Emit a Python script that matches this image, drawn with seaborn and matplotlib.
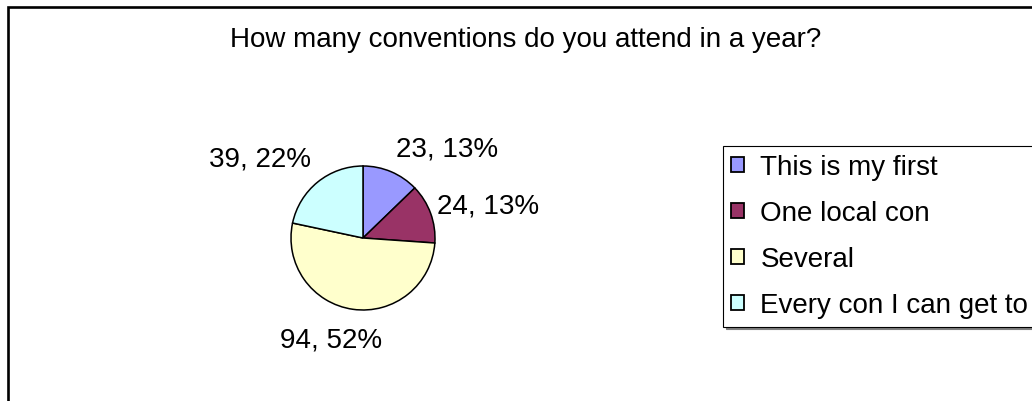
import matplotlib
matplotlib.use("Agg")
import matplotlib.pyplot as plt
from matplotlib.patches import Patch, Rectangle
import seaborn as sns

# Survey answers
categories = ["This is my first", "One local con", "Several", "Every con I can get to"]
counts = [23, 24, 94, 39]
colors = ["#9999FF", "#993366", "#FFFFCC", "#CCFFFF"]
title = "How many conventions do you attend in a year?"

sns.set_theme(style="white")
plt.rcParams["font.family"] = ["Liberation Sans", "DejaVu Sans"]
plt.rcParams["text.color"] = "black"

W, H = 1032, 402
fig = plt.figure(figsize=(W / 100, H / 100), dpi=100)
fig.patch.set_facecolor("white")


def fx(px):
    return px / W


def fy(py):
    return 1 - py / H


# chart-area frame (runs off the right and bottom edges)
fig.add_artist(Rectangle((fx(7.5), fy(420)), 1.2, fy(7.5) - fy(420),
                         transform=fig.transFigure, fill=False,
                         edgecolor="black", linewidth=1.9, zorder=0))

fig.text(fx(526), fy(47), title, ha="center", va="baseline",
         fontsize=20, color="black")

# pie area: centre (363, 239), radius 72 px
r = 72
ax = fig.add_axes([fx(363 - r), fy(239 + r), 2 * r / W, 2 * r / H])
ax.pie(counts, colors=colors, startangle=90, counterclock=False, radius=1,
       wedgeprops=dict(edgecolor="black", linewidth=1.1))
ax.set_xlim(-1, 1)
ax.set_ylim(-1, 1)
ax.set_axis_off()

total = sum(counts)
label_pos = [(1.17, 1.14), (1.74, 0.35), (-0.44, -1.51), (-1.43, 1.0)]
for v, (lx, ly) in zip(counts, label_pos):
    ax.text(lx, ly, f"{v}, {round(100 * v / total)}%", ha="center",
            va="baseline", fontsize=20, color="black", clip_on=False)

handles = [Patch(facecolor=c, edgecolor="black", linewidth=1.3) for c in colors]
leg = fig.legend(handles, categories, loc="upper left",
                 bbox_to_anchor=(fx(723), fy(147)),
                 bbox_transform=fig.transFigure, borderaxespad=0,
                 fontsize=20, frameon=True, fancybox=False,
                 borderpad=0.3, labelspacing=0.72,
                 handlelength=0.45, handleheight=0.45, handletextpad=0.6,
                 labelcolor="black",
                 shadow={"color": "#808080", "alpha": 1.0})
leg.get_frame().set_edgecolor("black")
leg.get_frame().set_linewidth(0.8)

fig.savefig("out.png", dpi=100, facecolor="white")
